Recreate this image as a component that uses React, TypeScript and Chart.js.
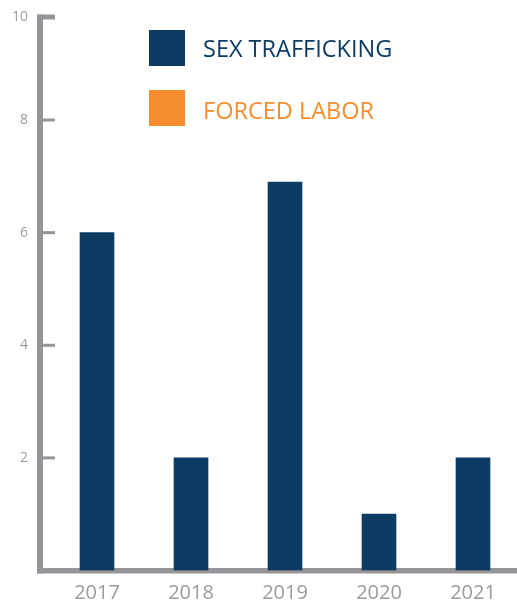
import React, { useEffect, useRef } from 'react';
import { Chart, registerables } from 'chart.js';

Chart.register(...registerables);

const years = ['2017', '2018', '2019', '2020', '2021'];
const sexTrafficking = [6, 2, 6.9, 1, 2];
const forcedLabor = [0, 0, 0, 0, 0];
const seriesLabels = ['SEX TRAFFICKING', 'FORCED LABOR'];
const seriesColors = ['#0c3c64', '#f68d2e'];
const yTickValues = [2, 4, 6, 8];
const yTopValue = 9.83;
const yTopLabel = '10';

const AXIS_GRAY = '#939598';
const TEXT_GRAY = '#9b9b9b';
const FONT = "'Open Sans', sans-serif";

const axesPlugin = {
  id: 'bracketAxes',
  beforeDatasetsDraw(chart: any) {
    const { ctx, scales } = chart;
    const y = scales.y;
    const top = y.getPixelForValue(yTopValue);
    const bottom = y.getPixelForValue(0);
    ctx.save();
    ctx.fillStyle = AXIS_GRAY;
    ctx.fillRect(37, top - 2.5, 6, bottom + 3 - (top - 2.5));
    ctx.fillRect(37, top - 2.5, 18, 5);
    yTickValues.forEach((v) => {
      const p = y.getPixelForValue(v);
      ctx.fillRect(43, p - 1.5, 12, 3);
    });
    ctx.fillRect(37, bottom - 2.5, chart.width - 37, 5.5);
    ctx.restore();
  },
};

const legendPlugin = {
  id: 'boxLegend',
  afterDraw(chart: any) {
    const { ctx } = chart;
    ctx.save();
    chart.data.datasets.forEach((ds: any, i: number) => {
      const top = 30 + i * 60;
      ctx.fillStyle = ds.backgroundColor;
      ctx.fillRect(149, top, 36, 36);
      ctx.font = `23.5px ${FONT}`;
      ctx.textBaseline = 'alphabetic';
      ctx.textAlign = 'left';
      ctx.fillText(ds.label, 203, top + 27.3 + i * 2);
    });
    ctx.restore();
  },
};

export default function App() {
  const ref = useRef<HTMLCanvasElement | null>(null);

  useEffect(() => {
    if (!ref.current) return;
    const chart = new Chart(ref.current, {
      type: 'bar',
      data: {
        labels: years,
        datasets: [
          {
            label: seriesLabels[0],
            data: sexTrafficking,
            backgroundColor: seriesColors[0],
            barThickness: 34,
            grouped: false,
          },
          {
            label: seriesLabels[1],
            data: forcedLabor,
            backgroundColor: seriesColors[1],
            barThickness: 34,
            grouped: false,
          },
        ] as any,
      },
      options: {
        responsive: false,
        animation: false,
        layout: { padding: { top: 17, left: 0, right: 0, bottom: 0 } },
        plugins: {
          legend: { display: false },
          title: { display: false },
          tooltip: { enabled: false },
        },
        scales: {
          x: {
            offset: true,
            grid: { display: false },
            border: { display: false },
            ticks: {
              color: TEXT_GRAY,
              font: { family: FONT, size: 20 },
              padding: 3,
            },
            afterFit: (scale: any) => {
              scale.height = 31.5;
              scale.paddingLeft = 0;
              scale.paddingRight = 0;
            },
          },
          y: {
            min: 0,
            max: yTopValue,
            grid: { display: false },
            border: { display: false },
            afterBuildTicks: (axis: any) => {
              axis.ticks = [...yTickValues, yTopValue].map((v) => ({ value: v }));
            },
            ticks: {
              color: TEXT_GRAY,
              font: { family: FONT, size: 14 },
              padding: 14,
              callback: (value: any) => (value === yTopValue ? yTopLabel : String(value)),
            },
            afterFit: (scale: any) => {
              scale.width = 50;
              scale.paddingTop = 0;
              scale.paddingBottom = 0;
            },
          },
        },
      },
      plugins: [axesPlugin, legendPlugin],
    });
    return () => chart.destroy();
  }, []);

  return (
    <div
      style={{
        position: 'absolute',
        left: 0,
        top: 0,
        width: 517,
        height: 602,
        overflow: 'hidden',
        background: '#ffffff',
      }}
    >
      <canvas ref={ref} width={520} height={602} style={{ display: 'block' }} />
    </div>
  );
}
